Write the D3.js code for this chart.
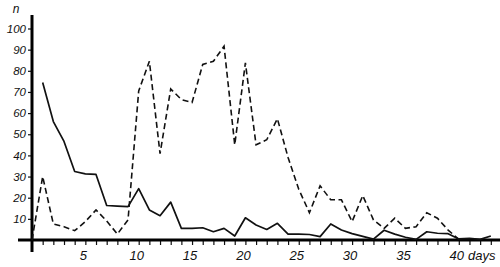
<!DOCTYPE html>
<html>
<head>
<meta charset="utf-8">
<script src="https://cdn.jsdelivr.net/npm/d3@7"></script>
<style>
  html, body { margin: 0; padding: 0; background: #fff; }
  #chart { width: 500px; height: 267px; }
  .lbl { font-family: "Liberation Sans", Arial, sans-serif; font-style: italic; fill: #111; }
</style>
</head>
<body>
<div id="chart"></div>
<script>
// series (n per day)
const solidDays = d3.range(1, 44);
const solidValues = [74.5, 56, 46.6, 32.4, 31.3, 31, 16.3, 16, 15.8, 24.3,
  14.2, 11.5, 17.9, 5.5, 5.5, 5.8, 3.9, 5.5, 1.9, 10.5,
  7.1, 5, 7.9, 2.8, 2.8, 2.6, 1.6, 7.6, 4.7, 3,
  1.7, 0.4, 4.6, 2.8, 1.3, 0.3, 3.9, 3.2, 3, 0.5,
  0.8, 0.3, 1.9];

const dashedDays = d3.range(0, 41);
const dashedValues = [0, 30, 7.6, 6.3, 4.4, 8.7, 14.2, 9, 2.8, 9.5,
  70.5, 84.5, 40.8, 71.4, 66.4, 65, 83, 84.5, 91.6, 45,
  83.7, 45, 47.4, 57.3, 39, 24, 12.9, 25.6, 19, 19,
  8.7, 21, 9.5, 5.5, 10.3, 5.5, 6.3, 12.9, 10.3, 4.7,
  0.3];

const yTicks = [10, 20, 30, 40, 50, 60, 70, 80, 90, 100];
const xTicks = d3.range(1, 44);
const xLabelEvery = 5;

const W = 500, H = 267;
const svg = d3.select("#chart").append("svg")
  .attr("width", W).attr("height", H);

const x = d3.scaleLinear().domain([0, 43]).range([32, 32 + 10.67 * 43]);
const y = d3.scaleLinear().domain([0, 100]).range([240, 28.5]);

// x axis ticks
const xAxis = svg.append("g")
  .attr("transform", `translate(0,${y(0)})`)
  .call(d3.axisBottom(x).tickValues(xTicks).tickSize(5).tickSizeOuter(0)
    .tickFormat(d => d % xLabelEvery === 0 ? d : ""));
xAxis.select(".domain").remove();
xAxis.selectAll(".tick line").attr("stroke", "#111").attr("stroke-width", 1.2);
xAxis.selectAll(".tick text")
  .attr("class", "lbl")
  .attr("font-size", 13)
  .attr("y", 11)
  .attr("dx", -2.5);

svg.append("text")
  .attr("class", "lbl")
  .attr("x", 468)
  .attr("y", y(0) + 11)
  .attr("dy", "0.71em")
  .attr("font-size", 13)
  .text("days");

// y axis ticks
const yAxis = svg.append("g")
  .attr("transform", `translate(${x(0)},0)`)
  .call(d3.axisLeft(y).tickValues(yTicks).tickSize(4).tickPadding(2).tickSizeOuter(0));
yAxis.select(".domain").remove();
yAxis.selectAll(".tick line").attr("stroke", "#111").attr("stroke-width", 1.2);
yAxis.selectAll(".tick text")
  .attr("class", "lbl")
  .attr("font-size", 11.5);

svg.append("text")
  .attr("class", "lbl")
  .attr("x", 16)
  .attr("y", 13)
  .attr("text-anchor", "middle")
  .attr("font-size", 12)
  .text("n");

// axis lines
svg.append("line")
  .attr("x1", 18).attr("x2", W)
  .attr("y1", y(0)).attr("y2", y(0))
  .attr("stroke", "#000").attr("stroke-width", 3);
svg.append("line")
  .attr("x1", x(0)).attr("x2", x(0))
  .attr("y1", 15).attr("y2", 252)
  .attr("stroke", "#000").attr("stroke-width", 3);

const line = d3.line().x(d => x(d[0])).y(d => y(d[1]));

// dashed series
svg.append("path")
  .datum(d3.zip(dashedDays, dashedValues))
  .attr("d", line)
  .attr("fill", "none")
  .attr("stroke", "#111")
  .attr("stroke-width", 1.6)
  .attr("stroke-dasharray", "6,3.5");

// solid series
svg.append("path")
  .datum(d3.zip(solidDays, solidValues))
  .attr("d", line)
  .attr("fill", "none")
  .attr("stroke", "#111")
  .attr("stroke-width", 1.7)
  .attr("stroke-linejoin", "round");
</script>
</body>
</html>
